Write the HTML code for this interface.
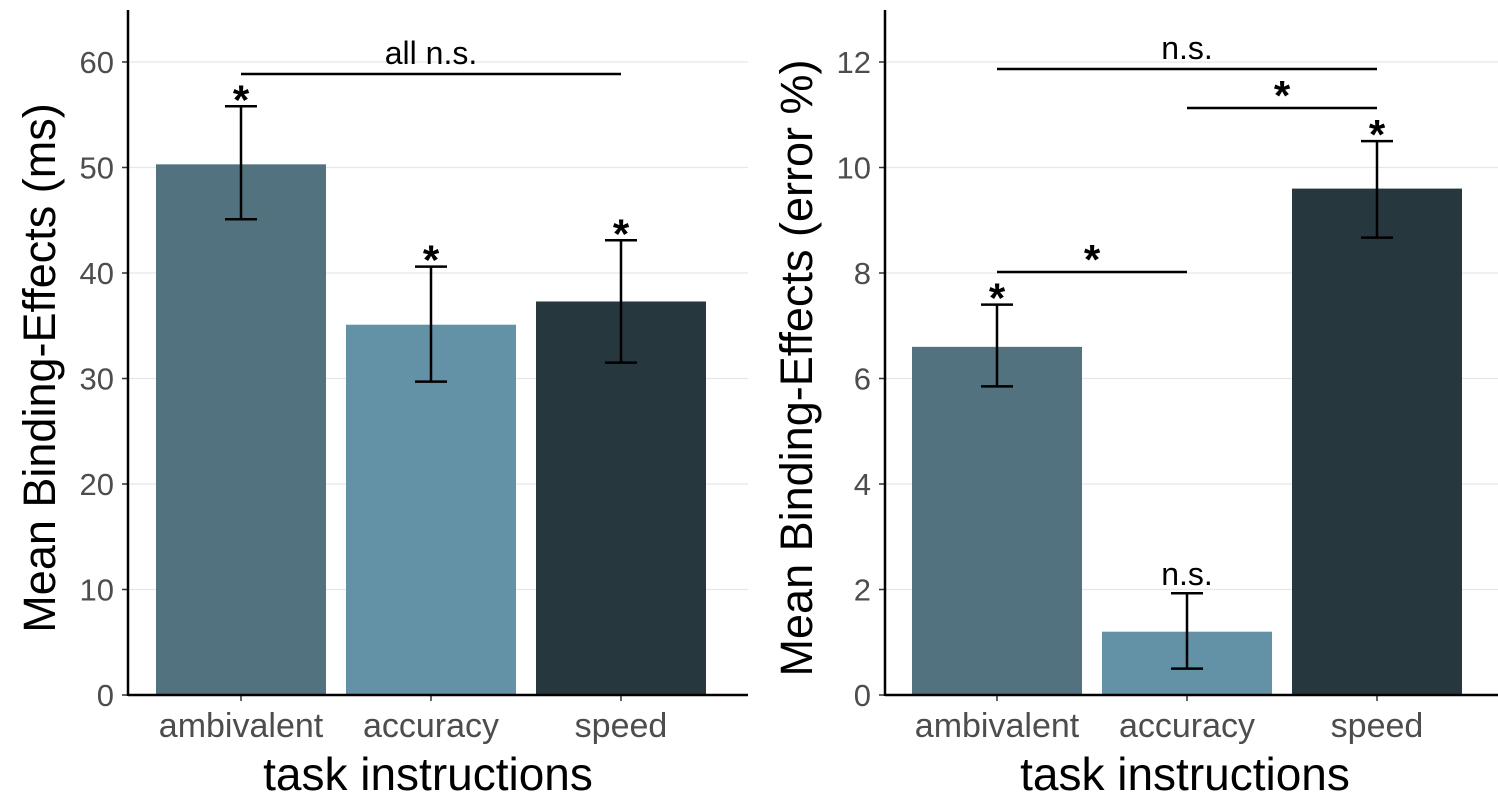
<!DOCTYPE html>
<html><head><meta charset="utf-8"><style>
body{margin:0;background:#fff;}
svg{display:block;font-family:"Liberation Sans",sans-serif;}
</style></head><body>
<svg id="chart" width="1498" height="800"></svg>
<script>
const categories = ["ambivalent","accuracy","speed"];
const rtValues = [50.3, 35.1, 37.3];
const rtLow = [45.1, 29.7, 31.5];
const rtHigh = [55.8, 40.6, 43.1];
const rtTicks = [0,10,20,30,40,50,60];
const errValues = [6.6, 1.2, 9.6];
const errLow = [5.85, 0.5, 8.67];
const errHigh = [7.4, 1.93, 10.5];
const errTicks = [0,2,4,6,8,10,12];
const colors = ["#52727f","#6391a6","#27373e"];
const rtBarLabels = ["*","*","*"];
const errBarLabels = ["*","n.s.","*"];

const NS="http://www.w3.org/2000/svg";
const svg=document.getElementById('chart');
function el(tag,attrs,parent,text){const e=document.createElementNS(NS,tag);for(const k in attrs)e.setAttribute(k,attrs[k]);if(text!==undefined)e.textContent=text;(parent||svg).appendChild(e);return e;}

function panel(cfg){
  const g=el('g',{});
  
  
  const y=v=>695-(v/cfg.unit)*105.5;
  const xc=i=>cfg.x0+i*190;
  cfg.ticks.forEach(t=>{
    const l=el('line',{x1:cfg.axisX,x2:cfg.axisX+620,y1:y(t),y2:y(t),stroke:'#e6e6e6','stroke-width':1.2},g);
    
    
    const tx=el('text',{x:cfg.axisX-14,y:y(t)+11,'text-anchor':'end','font-size':31,fill:'#4d4d4d'},g,String(t));
    
    
    el('line',{x1:cfg.axisX-6,x2:cfg.axisX,y1:y(t),y2:y(t),stroke:'#333','stroke-width':1.5},g);
  });
  categories.forEach((c,i)=>{
    const b=el('rect',{x:xc(i)-85,y:y(cfg.vals[i]),width:170,height:695-y(cfg.vals[i]),fill:colors[i]},g);
    
    
    const eg=el('g',{stroke:'#000','stroke-width':2.5},g);
    
    
    el('line',{x1:xc(i),x2:xc(i),y1:y(cfg.lo[i]),y2:y(cfg.hi[i])},eg);
    el('line',{x1:xc(i)-16,x2:xc(i)+16,y1:y(cfg.lo[i]),y2:y(cfg.lo[i])},eg);
    el('line',{x1:xc(i)-16,x2:xc(i)+16,y1:y(cfg.hi[i]),y2:y(cfg.hi[i])},eg);
    const lab=cfg.labels[i];
    const s=el('text',{x:xc(i),y:y(cfg.hi[i])+(lab==='*'?8:-8),'text-anchor':'middle','font-size':lab==='*'?42:32,fill:'#000','font-weight':lab==='*'?'bold':'normal'},g,lab);
    
    
    const xt=el('text',{x:xc(i),y:737,'text-anchor':'middle','font-size':34,fill:'#4d4d4d'},g,c);
    
    
    el('line',{x1:xc(i),x2:xc(i),y1:695,y2:701,stroke:'#333','stroke-width':1.5},g);
  });
  el('line',{x1:cfg.axisX,x2:cfg.axisX,y1:10,y2:696,stroke:'#000','stroke-width':2.5},g);
  el('line',{x1:cfg.axisX,x2:cfg.axisX+620,y1:695,y2:695,stroke:'#000','stroke-width':2.5},g);
  const xa=el('text',{x:cfg.axisX+300,y:790,'text-anchor':'middle','font-size':46,fill:'#000'},g,'task instructions');
  
  
  const ya=el('text',{x:0,y:0,'text-anchor':'middle','font-size':45,fill:'#000',transform:`translate(${cfg.axisX-73},368) rotate(-90)`},g,cfg.ytitle);
  
  
  cfg.brackets.forEach(br=>{
    const x1=xc(br[0]), x2=xc(br[1]);
    const l=el('line',{x1:x1,x2:x2,y1:br[2],y2:br[2],stroke:'#000','stroke-width':2.5},g);
    
    
    const t=el('text',{x:(x1+x2)/2,y:br[2]+(br[3]==='*'?2:-10),'text-anchor':'middle','font-size':br[3]==='*'?42:32,'font-weight':br[3]==='*'?'bold':'normal',fill:'#000'},g,br[3]);
    
    
  });
}
panel({name:'rt-panel',axisX:128,x0:241,unit:10,ticks:rtTicks,vals:rtValues,lo:rtLow,hi:rtHigh,labels:rtBarLabels,
  ytitle:'Mean Binding-Effects (ms)',brackets:[[0,2,74,'all n.s.']]});
panel({name:'error-panel',axisX:885,x0:997,unit:2,ticks:errTicks,vals:errValues,lo:errLow,hi:errHigh,labels:errBarLabels,
  ytitle:'Mean Binding-Effects (error %)',brackets:[[0,2,69,'n.s.'],[1,2,108,'*'],[0,1,272,'*']]});
</script>
</body></html>
